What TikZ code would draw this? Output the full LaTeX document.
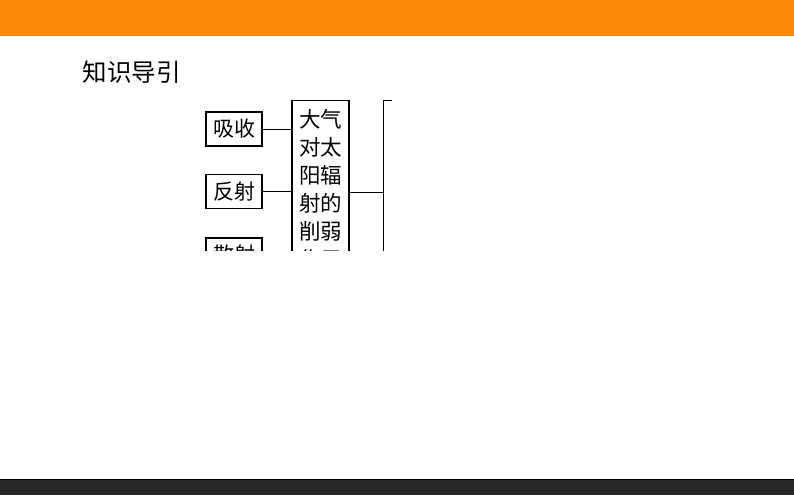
\documentclass[tikz,border=0pt]{standalone}
\usepackage{fontspec}
\newfontfamily\cjk{Noto Sans CJK SC}
\definecolor{topbar}{RGB}{255,138,10}
\definecolor{botbar}{RGB}{40,40,40}
\tikzset{
  termbox/.style={draw=black, line width=1.1pt, minimum width=56pt, minimum height=34pt, inner sep=0pt,
    font=\cjk\fontsize{21}{24}\selectfont},
  bigbox/.style={draw=black, line width=1.1pt, minimum width=57pt, inner xsep=0pt, inner ysep=8.5pt, align=center,
    font=\cjk\fontsize{21.5}{28}\selectfont},
  link/.style={draw=black, line width=0.9pt},
  title/.style={font=\cjk\fontsize{24.5}{28}\selectfont, inner sep=0pt}
}
\begin{document}
\begin{tikzpicture}[x=1pt,y=-1pt]
\useasboundingbox (0,0) rectangle (794,495);
\fill[white] (0,0) rectangle (794,495);
\fill[topbar] (0,0) rectangle (794,36);
\fill[botbar] (0,479) rectangle (794,495);
\draw[black, line width=0.8pt] (0,479) -- (794,479);
\node[title] (ttl) at (131.5,72.5) {知识导引};
\begin{scope}
\clip (180,90) rectangle (393,250.5);
\node[termbox] (xishou) at (234,129) {吸收};
\node[termbox] (fanshe) at (234,191.5) {反射};
\node[termbox] (sanshe) at (234,255) {散射};
\node[bigbox, anchor=north] (big) at (320.5,100) {大气\\对太\\阳辐\\射的\\削弱\\作用};
\coordinate (brtop) at (383,100);
\coordinate (brtick) at (392,100);
\coordinate (brmid) at (383,192);
\coordinate (brbot) at (383,260);
\draw[link] (xishou.east) -- (xishou.east -| big.west);
\draw[link] (fanshe.east) -- (fanshe.east -| big.west);
\draw[link] (sanshe.east) -- (sanshe.east -| big.west);
\draw[link] (big.east |- brmid) -- (brmid);
\draw[link] (brtick) -- (brtop) -- (brbot);
\end{scope}
\end{tikzpicture}
\end{document}
